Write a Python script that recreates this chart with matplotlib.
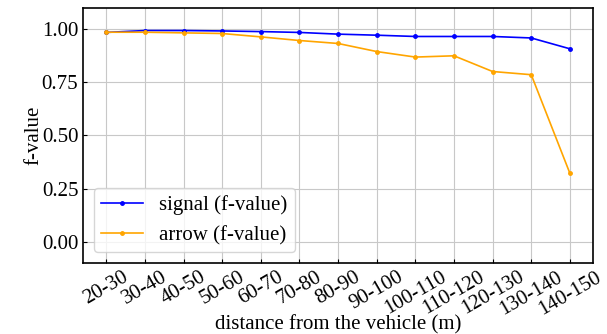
import matplotlib
matplotlib.use('Agg')
import matplotlib.pyplot as plt
import numpy as np

plt.rcParams['font.family'] = ['Liberation Serif', 'DejaVu Serif']

distances = ['20-30', '30-40', '40-50', '50-60', '60-70', '70-80', '80-90',
             '90-100', '100-110', '110-120', '120-130', '130-140', '140-150']
signal_f = [0.985, 0.994, 0.994, 0.992, 0.989, 0.985, 0.977,
            0.972, 0.966, 0.966, 0.966, 0.959, 0.908]
arrow_f = [0.986, 0.986, 0.983, 0.980, 0.964, 0.947, 0.933,
           0.895, 0.869, 0.875, 0.801, 0.786, 0.322]

fig = plt.figure(figsize=(6.07, 3.34), dpi=100)
ax = fig.add_axes([0.137, 0.213, 0.84, 0.763])

x = np.arange(len(distances))
ax.plot(x, signal_f, color='blue', marker='.', markersize=5, lw=1.2, label='signal (f-value)')
ax.plot(x, arrow_f, color='orange', marker='.', markersize=5, lw=1.2, label='arrow (f-value)')

ax.set_ylim(-0.1, 1.1)
ax.set_yticks([0.0, 0.25, 0.5, 0.75, 1.0])
ax.set_xticks(x)
ax.set_xticklabels(distances, rotation=30)
ax.tick_params(direction='in', labelsize=15, length=3)
ax.grid(True, color='#c8c8c8', lw=0.8)
ax.set_axisbelow(True)
for s in ax.spines.values():
    s.set_linewidth(1.2)

ax.set_xlabel('distance from the vehicle (m)', fontsize=15, labelpad=-3)
ax.set_ylabel('f-value', fontsize=15, labelpad=-1)
ax.legend(loc='lower left', fontsize=15, framealpha=0.8, handlelength=2.0,
          borderpad=0.35, labelspacing=0.5)

fig.savefig('out.png', dpi=100)
